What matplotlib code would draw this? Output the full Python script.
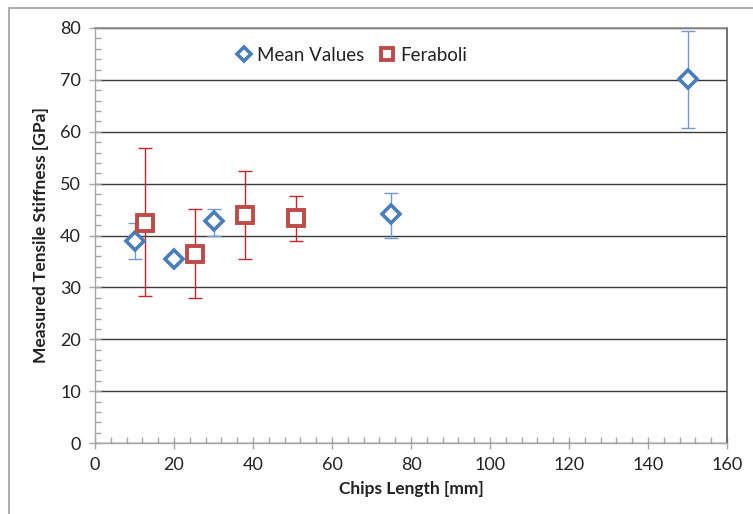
import matplotlib
matplotlib.use("Agg")
import matplotlib.pyplot as plt
from matplotlib.ticker import MultipleLocator
from matplotlib.patches import Rectangle

plt.rcParams['font.family'] = ['Lato', 'DejaVu Sans']

# Mean values (blue diamonds)
mean_x = [10, 20, 30, 75, 150]
mean_y = [38.9, 35.4, 42.7, 44.1, 70.1]
mean_lo = [35.5, 35.0, 40.0, 39.6, 60.8]
mean_hi = [42.4, 35.8, 45.2, 48.2, 79.5]

# Feraboli (red squares)
fer_x = [12.7, 25.4, 38.1, 50.8]
fer_y = [42.4, 36.5, 43.9, 43.3]
fer_lo = [28.3, 27.9, 35.5, 39.0]
fer_hi = [56.9, 45.1, 52.5, 47.6]

x_ticks = [0, 20, 40, 60, 80, 100, 120, 140, 160]
y_ticks = [0, 10, 20, 30, 40, 50, 60, 70, 80]

blue = '#4a7ebb'
blue_err = '#6f9bd1'
red = '#be4b48'
red_err = '#c0282a'

fig = plt.figure(figsize=(7.53, 5.14), dpi=100)
fig.patches.append(Rectangle((9/753, -0.1), 2.0, 1.1 - 8/514, transform=fig.transFigure,
                             fill=False, edgecolor='#a0a0a0', linewidth=1.2, zorder=0))
ax = fig.add_axes([95/753, 71/514, 632/753, 415/514])

ax.set_xlim(0, 160)
ax.set_ylim(0, 80)
ax.set_xticks(x_ticks)
ax.set_yticks(y_ticks)
ax.xaxis.set_minor_locator(MultipleLocator(4))
ax.yaxis.set_minor_locator(MultipleLocator(2))

ax.grid(axis='y', which='major', color='#3a3a3a', linewidth=1.0, zorder=0)
ax.set_axisbelow(True)

for s in ['left', 'bottom']:
    ax.spines[s].set_color('#a6a6a6')
    ax.spines[s].set_linewidth(1.0)
ax.spines['right'].set_color('#595959')
ax.spines['right'].set_linewidth(1.2)
ax.spines['top'].set_color('#8c8c8c')
ax.spines['top'].set_linewidth(1.2)

ax.tick_params(axis='both', which='major', direction='inout', length=8, width=1.0,
               color='#a6a6a6', labelsize=13, labelcolor='#222222', pad=6)
ax.tick_params(axis='both', which='minor', direction='in', length=4, width=1.0, color='#a6a6a6')

ax.errorbar(mean_x, mean_y,
            yerr=[[m - l for m, l in zip(mean_y, mean_lo)], [h - m for m, h in zip(mean_y, mean_hi)]],
            fmt='none', ecolor=blue_err, elinewidth=1.0, capsize=5, capthick=1.0, zorder=3)
ax.errorbar(fer_x, fer_y,
            yerr=[[m - l for m, l in zip(fer_y, fer_lo)], [h - m for m, h in zip(fer_y, fer_hi)]],
            fmt='none', ecolor=red_err, elinewidth=1.0, capsize=5, capthick=1.0, zorder=3)

ax.plot(mean_x, mean_y, linestyle='none', marker='D', markersize=9, markerfacecolor='white',
        markeredgecolor=blue, markeredgewidth=2.6, label='Mean Values', zorder=4)
ax.plot(fer_x, fer_y, linestyle='none', marker='s', markersize=11.5, markerfacecolor='white',
        markeredgecolor=red, markeredgewidth=2.8, label='Feraboli', zorder=4)

ax.set_xlabel('Chips Length [mm]', fontsize=12.5, fontweight='bold', color='#222222', labelpad=6)
ax.set_ylabel('Measured Tensile Stiffness [GPa]', fontsize=12.5, fontweight='bold', color='#222222', labelpad=8)

leg = ax.legend(loc='upper center', bbox_to_anchor=(0.403, 0.995), ncol=2, frameon=False,
                fontsize=13.5, handletextpad=0.1, columnspacing=0.6, handlelength=1.2,
                markerscale=0.8)
for t in leg.get_texts():
    t.set_color('#222222')

fig.savefig('out.png', dpi=100)
